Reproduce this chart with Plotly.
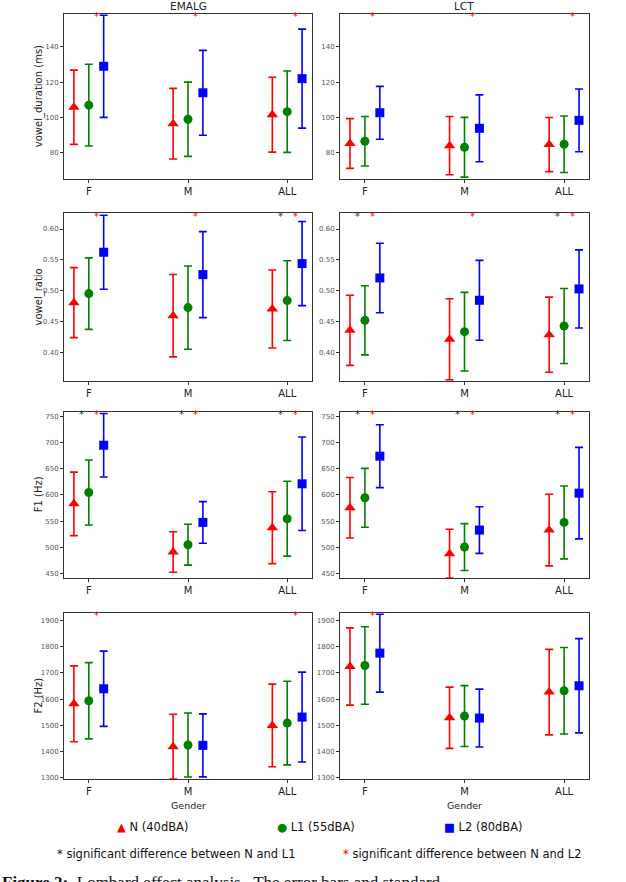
import plotly.graph_objects as go

GROUPS = ["F", "M", "ALL"]
LEVELS = ["N (40dBA)", "L1 (55dBA)", "L2 (80dBA)"]
COLORS = ["red", "green", "blue"]
SYMBOLS = ["triangle-up", "circle", "square"]
COLUMNS = ["EMALG", "LCT"]
ROW_LABELS = ["vowel_duration (ms)", "vowel_ratio", "F1 (Hz)", "F2 (Hz)"]

# means per level [N, L1, L2] x groups [F, M, ALL]; sd = half error bar
EMALG_DUR_MEAN = [[105.8, 96.5, 101.6], [107.0, 99.0, 103.3], [129.0, 114.0, 122.0]]
EMALG_DUR_SD = [[21.0, 20.0, 21.2], [23.1, 21.0, 23.0], [28.9, 24.0, 28.0]]
LCT_DUR_MEAN = [[85.3, 84.1, 84.7], [86.6, 83.2, 84.9], [102.7, 93.9, 98.4]]
LCT_DUR_SD = [[14.05, 16.5, 15.3], [14.0, 16.9, 16.0], [14.95, 18.9, 17.75]]

EMALG_RATIO_MEAN = [[0.4806, 0.4595, 0.4703], [0.4952, 0.4725, 0.4839], [0.5623, 0.526, 0.5439]]
EMALG_RATIO_SD = [[0.0568, 0.0668, 0.0633], [0.058, 0.0674, 0.0647], [0.0601, 0.0698, 0.0682]]
LCT_RATIO_MEAN = [[0.4357, 0.4211, 0.4287], [0.4519, 0.4335, 0.4427], [0.5206, 0.4844, 0.5028]]
LCT_RATIO_SD = [[0.0569, 0.0658, 0.0609], [0.056, 0.0638, 0.0609], [0.0563, 0.0647, 0.0633]]

EMALG_F1_MEAN = [[583.0, 490.8, 537.3], [604.8, 504.8, 554.5], [695.2, 547.5, 621.4]]
EMALG_F1_SD = [[60.75, 38.85, 68.8], [62.15, 39.15, 71.65], [60.9, 39.85, 89.5]]
LCT_F1_MEAN = [[575.5, 487.6, 532.8], [594.6, 500.3, 547.5], [674.2, 532.8, 603.5]]
LCT_F1_SD = [[58.0, 46.85, 68.45], [56.4, 44.9, 69.75], [60.2, 44.6, 87.55]]

EMALG_F2_MEAN = [[1582.0, 1418.2, 1499.5], [1593.6, 1424.6, 1508.4], [1639.4, 1423.3, 1531.3]]
EMALG_F2_SD = [[144.9, 123.95, 157.6], [145.55, 122.05, 159.5], [143.65, 120.15, 171.6]]
LCT_F2_MEAN = [[1724.5, 1528.8, 1626.6], [1728.3, 1535.1, 1631.7], [1775.4, 1527.5, 1650.8]]
LCT_F2_SD = [[147.45, 116.95, 163.3], [148.05, 116.25, 165.25], [148.7, 110.5, 179.85]]

# significance flags per group: [N vs L1, N vs L2]
EMALG_DUR_SIG = [[0, 0, 0], [1, 1, 1]]
LCT_DUR_SIG = [[0, 0, 0], [1, 1, 1]]
EMALG_RATIO_SIG = [[0, 0, 1], [1, 1, 1]]
LCT_RATIO_SIG = [[1, 0, 1], [1, 1, 1]]
EMALG_F1_SIG = [[1, 1, 1], [1, 1, 1]]
LCT_F1_SIG = [[1, 1, 1], [1, 1, 1]]
EMALG_F2_SIG = [[0, 0, 0], [1, 0, 1]]
LCT_F2_SIG = [[0, 0, 0], [1, 0, 0]]

Y_RANGES = [[65, 158.6], [0.354, 0.6255], [441, 759.6], [1293.6, 1929]]
Y_TICKS = [[80, 100, 120, 140], [0.40, 0.45, 0.50, 0.55, 0.60],
           [450, 500, 550, 600, 650, 700, 750], [1300, 1400, 1500, 1600, 1700, 1800, 1900]]
Y_TICKFMT = ["d", ".2f", "d", "d"]

PANELS = [
    [(EMALG_DUR_MEAN, EMALG_DUR_SD, EMALG_DUR_SIG), (LCT_DUR_MEAN, LCT_DUR_SD, LCT_DUR_SIG)],
    [(EMALG_RATIO_MEAN, EMALG_RATIO_SD, EMALG_RATIO_SIG), (LCT_RATIO_MEAN, LCT_RATIO_SD, LCT_RATIO_SIG)],
    [(EMALG_F1_MEAN, EMALG_F1_SD, EMALG_F1_SIG), (LCT_F1_MEAN, LCT_F1_SD, LCT_F1_SIG)],
    [(EMALG_F2_MEAN, EMALG_F2_SD, EMALG_F2_SIG), (LCT_F2_MEAN, LCT_F2_SD, LCT_F2_SIG)],
]

W, H = 626, 882
ROW_PX = [(14, 180), (214, 382), (413, 580), (615, 782)]
COL_PX = [(64, 312), (340, 589)]
OFFSETS = [-0.15, 0.0, 0.15]
FONT = "DejaVu Sans"


def px(xr):
    return xr / W


def py(yr):
    return 1 - yr / H


fig = go.Figure()
annotations = []
layout = {}


def note(x, y, text, size, color="#111", family=FONT, **kw):
    d = dict(x=px(x), y=py(y), xref="paper", yref="paper", text=text, showarrow=False,
             xanchor="center", yanchor="middle", font=dict(family=family, size=size, color=color))
    d.update(kw)
    annotations.append(d)


for r in range(4):
    for c in range(2):
        n = r * 2 + c + 1
        sfx = "" if n == 1 else str(n)
        means, sds, sig = PANELS[r][c]
        for k in range(3):
            fig.add_trace(go.Scatter(
                x=[i + OFFSETS[k] for i in range(3)], y=means[k],
                mode="markers",
                marker=dict(symbol=SYMBOLS[k], color=COLORS[k], size=9 if k != 0 else 10),
                error_y=dict(type="data", array=sds[k], color=COLORS[k], thickness=1.6, width=4),
                xaxis="x" + sfx, yaxis="y" + sfx, showlegend=False, cliponaxis=False,
            ))
        y0, y1 = ROW_PX[r]
        x0, x1 = COL_PX[c]
        layout["xaxis" + sfx] = dict(
            domain=[px(x0), px(x1)], range=[-0.25, 2.25], tickvals=[0, 1, 2], ticktext=GROUPS,
            showline=True, mirror=True, linecolor="#333", linewidth=1, ticks="outside",
            ticklen=3, tickcolor="#333", showgrid=False, zeroline=False, anchor="y" + sfx,
            tickfont=dict(family=FONT, size=10, color="#222"),
        )
        layout["yaxis" + sfx] = dict(
            domain=[py(y1), py(y0)], range=Y_RANGES[r], tickvals=Y_TICKS[r],
            tickformat=Y_TICKFMT[r], showline=True, mirror=True, linecolor="#333", linewidth=1,
            ticks="outside", ticklen=3, tickcolor="#333", showgrid=False, zeroline=False,
            anchor="x" + sfx, tickfont=dict(family=FONT, size=7, color="#555"),
        )
        top = Y_RANGES[r][1]
        for i in range(3):
            if sig[0][i]:
                annotations.append(dict(x=i - 0.07, y=top, xref="x" + sfx, yref="y" + sfx,
                                        text="*", showarrow=False, yshift=-3,
                                        xanchor="center", yanchor="middle",
                                        font=dict(family=FONT, size=10, color="#333")))
            if sig[1][i]:
                annotations.append(dict(x=i + 0.08, y=top, xref="x" + sfx, yref="y" + sfx,
                                        text="*", showarrow=False, yshift=-3,
                                        xanchor="center", yanchor="middle",
                                        font=dict(family=FONT, size=10, color="red")))

# column titles and x-axis titles
for c, name in enumerate(COLUMNS):
    x0, x1 = COL_PX[c]
    note((x0 + x1) / 2, 6, name, 10.5, "#222")
    note((x0 + x1) / 2, 808, "Gender", 9.5, "#222")

# row labels
for r, lab in enumerate(ROW_LABELS):
    y0, y1 = ROW_PX[r]
    note(38.5, (y0 + y1) / 2, lab, 10, "#222", textangle=-90)

# legend
LEG_X = [152, 316, 483]
LEG_SYM = ["▲", "●", "■"]
for k in range(3):
    note(LEG_X[k], 830, f'<span style="color:{COLORS[k]}">{LEG_SYM[k]}</span> {LEVELS[k]}', 11.5)
note(176, 857, "* significant difference between N and L1", 11.5)
note(462, 857, '<span style="color:red">*</span> significant difference between N and L2', 11.5)
# caption (cut off at the page bottom)
note(0, 874, "<b>Figure 2:</b>  Lombard effect analysis.  The error bars and standard", 17,
     family="Liberation Serif", xanchor="left", yanchor="top")

fig.update_layout(
    width=W, height=H, margin=dict(l=0, r=0, t=0, b=0),
    paper_bgcolor="white", plot_bgcolor="white", showlegend=False,
    annotations=annotations, **layout,
)
fig.write_html("out.html", config={"displayModeBar": False},
               post_script="document.body.style.margin='0px';")
